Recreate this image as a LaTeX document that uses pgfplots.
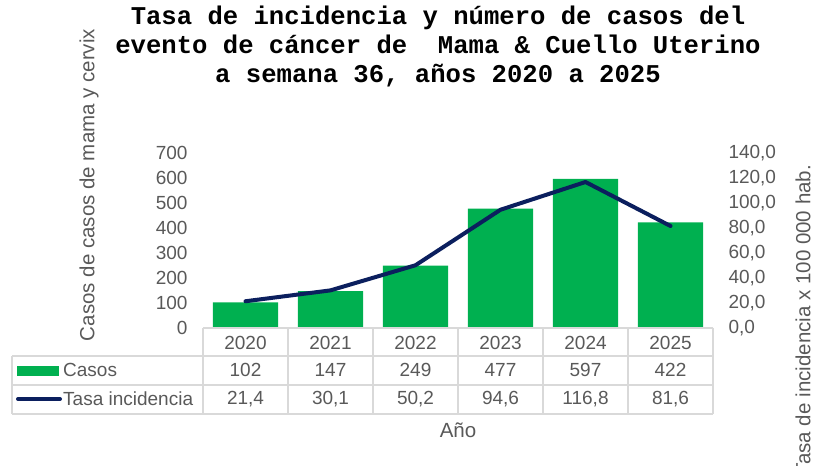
\documentclass[border=0pt]{standalone}
\usepackage{pgfplots}
\pgfplotsset{compat=1.18}
\usepackage{fontspec}
\setmainfont{Liberation Sans}
\newfontfamily\titlefont{Liberation Mono}
\definecolor{barg}{HTML}{00B050}
\definecolor{navy}{HTML}{0B1F5E}
\definecolor{txt}{HTML}{595959}
\definecolor{gridc}{HTML}{D9D9D9}
\newcommand{\tf}{\fontsize{19bp}{22bp}\selectfont}
\newcommand{\lf}{\fontsize{20.5bp}{24bp}\selectfont}
\begin{document}
\begin{tikzpicture}
\path[use as bounding box] (0,0) rectangle (817bp,466bp);
% title
\node[align=center, font={\titlefont\bfseries\fontsize{25.6bp}{29bp}\selectfont}, anchor=base] at (438bp,383bp)
 {Tasa de incidencia y número de casos del\\evento de cáncer de \ Mama \& Cuello Uterino\\a semana 36, años 2020 a 2025};
\begin{axis}[
  at={(203bp,138bp)}, anchor=south west, scale only axis,
  width=510bp, height=175bp,
  xmin=-0.5, xmax=5.5, ymin=0, ymax=700,
  ytick={0,100,...,700}, xtick=\empty,
  axis line style={draw=none}, major tick length=0pt,
  tick label style={font=\tf, text=txt},
  yticklabel style={xshift=-12bp},
  /pgf/number format/assume math mode=true,
  clip=false,
]
\addplot[ybar, bar width=0.765, fill=barg, draw=none, bar shift=0pt]
  coordinates {(0,102) (1,147) (2,249) (3,477) (4,597) (5,422)};
\end{axis}
\begin{axis}[
  at={(203bp,138bp)}, anchor=south west, scale only axis,
  width=510bp, height=175bp,
  xmin=-0.5, xmax=5.5, ymin=0, ymax=140,
  ytick={0,20,...,140}, xtick=\empty,
  axis y line*=right, axis x line=none,
  axis line style={draw=none}, major tick length=0pt,
  tick label style={font=\tf, text=txt},
  yticklabel style={xshift=12bp},
  /pgf/number format/.cd, fixed, fixed zerofill, precision=1, use comma, assume math mode=true,
  /pgfplots/.cd,
  clip=false,
]
\addplot[navy, line width=4bp, line join=round, line cap=round]
  coordinates {(0,21.4) (1,30.1) (2,50.2) (3,94.6) (4,116.8) (5,81.6)};
\end{axis}
% data table
\begin{scope}[gridc, line width=1.5bp]
\draw (203bp,138bp) -- (713bp,138bp);
\draw (12bp,110bp) -- (713bp,110bp);
\draw (12bp,81bp) -- (713bp,81bp);
\draw (12bp,52bp) -- (713bp,52bp);
\draw (12bp,110bp) -- (12bp,52bp);
\foreach \x in {203,288,373,458,543,628,713} \draw (\x bp,138bp) -- (\x bp,52bp);
\end{scope}
\foreach \yr/\c/\r [count=\i from 0] in {2020/102/{21,4},2021/147/{30,1},2022/249/{50,2},2023/477/{94,6},2024/597/{116,8},2025/422/{81,6}}{
  \pgfmathsetmacro{\xc}{245.5+85*\i}
  \node[font=\tf, text=txt] at (\xc bp,123bp) {\yr};
  \node[font=\tf, text=txt] at (\xc bp,96bp) {\c};
  \node[font=\tf, text=txt] at (\xc bp,67bp) {\r};
}
\fill[barg] (17bp,90bp) rectangle (59bp,100bp);
\draw[navy, line width=4bp, line cap=round] (18bp,67bp) -- (60bp,67bp);
\node[font=\tf, text=txt, anchor=west, inner sep=0pt] at (63bp,96bp) {Casos};
\node[font=\tf, text=txt, anchor=west, inner sep=0pt] at (63bp,67bp) {Tasa incidencia};
% axis titles
\node[font=\lf, text=txt] at (458bp,36bp) {Año};
\node[font=\lf, text=txt, rotate=90] at (89bp,281bp) {Casos de casos de mama y cervix};
\node[font=\lf, text=txt, rotate=90] at (803bp,146bp) {Tasa de incidencia x 100 000 hab.};
\end{tikzpicture}
\end{document}
